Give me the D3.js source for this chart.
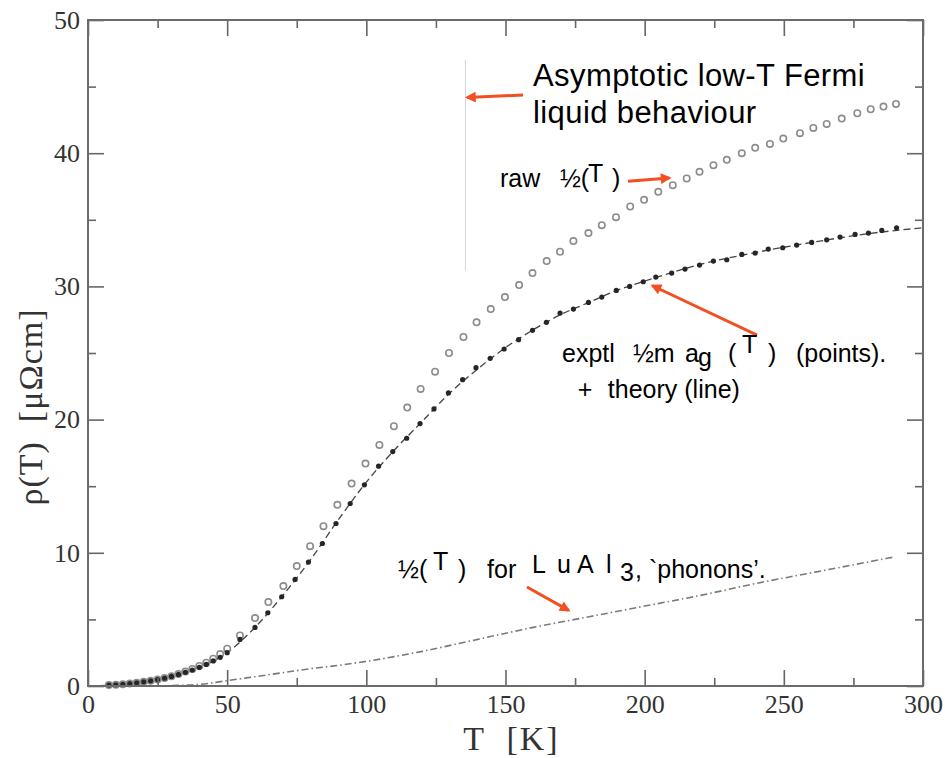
<meta charset="utf-8">
<title>rho(T) CeAl3 style plot</title>
<body style="margin:0;background:#fff">
<script src="https://d3js.org/d3.v7.min.js"></script>
<script>
// plot size
var W = 945, H = 758;
var mLeft = 88, mRight = 923, mTop = 20, mBottom = 686;

// raw rho(T) (open circles)
var rawT   = [7.5,10,12.5,15,17.5,20,22.5,25,27.5,30,32.5,35,37.5,40,42.5,45,47.5,50,
              54.6,60,64.8,70.2,75,79.8,84.6,89.6,94.7,99.7,104.7,109.9,114.7,119.5,124.7,129.7,
              134.9,139.6,144.7,149.8,154.9,159.7,164.8,169.6,174.4,179.8,184.6,189.7,194.8,199.8,
              204.9,210.1,215.1,219.7,224.7,229.5,234.9,239.7,245,249.8,255.8,260.6,265.4,270.8,
              276.4,281.2,285.8,290.3];
var rawRho = [0.07,0.09,0.13,0.18,0.24,0.31,0.39,0.48,0.6,0.73,0.9,1.08,1.28,1.5,1.75,2.05,2.4,2.8,
              3.8,5.1,6.3,7.5,9.0,10.5,12.0,13.6,15.2,16.7,18.1,19.5,20.9,22.3,23.6,25.0,
              26.2,27.3,28.3,29.2,30.1,31.0,31.9,32.6,33.4,34.0,34.6,35.2,36.0,36.5,
              37.1,37.6,38.1,38.6,39.1,39.5,40.0,40.4,40.7,41.1,41.5,41.9,42.2,42.6,
              43.0,43.3,43.5,43.7];

// exptl rho_mag(T) (filled points)
var magT   = [7.5,10,12.5,15,17.5,20,22.5,25,27.5,30,32.5,35,37.5,40,42.5,45,47.5,50,
              54.6,60,64.6,69.6,74.4,79.2,84.2,89.1,94.2,99.3,104.4,109.5,114.5,119.3,124.3,129.5,
              134.6,139.4,144.5,149.5,154.7,159.7,164.7,169.6,174.4,179.8,184.6,189.8,194.6,199.5,
              204,209.7,214.5,219.7,224.7,229.5,234.9,239.7,244.4,249.6,254.6,260,265.4,270.2,
              275.6,280.4,285.2,290.5];
var magRho = [0.07,0.09,0.13,0.18,0.24,0.31,0.39,0.48,0.59,0.72,0.87,1.03,1.2,1.4,1.62,1.88,2.15,2.5,
              3.5,4.4,5.5,6.7,8.0,9.3,10.7,12.2,13.7,15.1,16.5,17.6,18.6,19.7,20.8,22.0,
              23.0,23.9,24.6,25.3,26.0,26.7,27.3,28.0,28.3,28.8,29.2,29.7,30.0,30.35,
              30.7,31.0,31.3,31.6,31.9,32.0,32.4,32.5,32.8,32.9,33.1,33.3,33.5,33.7,
              33.9,34.0,34.2,34.4];

// theory (line)
var theoryT   = [0,10,20,30,40,50,60,70,80,90,100,110,120,130,140,150,160,170,180,190,200,220,240,260,280,300];
var theoryRho = [0,0.09,0.31,0.72,1.4,2.5,4.4,6.8,9.5,12.5,15.3,17.7,19.85,22.0,23.8,25.4,26.75,27.9,28.8,29.7,30.4,31.65,32.55,33.3,33.95,34.4];

// LuAl3 phonons
var phonT   = [25,30,40,50,60,70,80,90,100,120,140,160,180,200,220,240,260,280,290];
var phonRho = [0,0.03,0.12,0.4,0.7,1.0,1.3,1.55,1.85,2.6,3.5,4.4,5.2,6.0,6.8,7.7,8.5,9.3,9.7];

var xTicks = [0,50,100,150,200,250,300];
var xMinor = [25,75,125,175,225,275];
var yTicks = [0,10,20,30,40,50];
var yMinor = [5,15,25,35,45];

var svg = d3.select('body').append('svg')
            .attr('width', W)
            .attr('height', H)
              .style('display', 'block');

var x = d3.scaleLinear().domain([0, 300]).range([mLeft, mRight]);
var y = d3.scaleLinear().domain([0, 50]).range([mBottom, mTop]);

var orange = '#f25022';
svg.append('defs').append('marker')
    .attr('id', 'head')
    .attr('viewBox', '0 0 10 10')
    .attr('refX', 8).attr('refY', 5)
    .attr('markerWidth', 4.2).attr('markerHeight', 3.6)
    .attr('orient', 'auto')
  .append('path')
    .attr('d', 'M0,0 L10,5 L0,10 z')
    .style('fill', orange);

//curves=====================================================================
var line = d3.line().x(function(d){ return x(d[0]); }).y(function(d){ return y(d[1]); });

svg.append('path')
    .datum(d3.zip(phonT, phonRho))
    .attr('d', line.curve(d3.curveMonotoneX))
      .style('fill', 'none')
      .style('stroke', '#7a7a7a')
      .style('stroke-width', 1.6)
      .style('stroke-dasharray', '7,3,1.5,3');

svg.append('path')
    .datum(d3.zip(theoryT, theoryRho))
    .attr('d', line.curve(d3.curveMonotoneX))
      .style('fill', 'none')
      .style('stroke', '#444')
      .style('stroke-width', 1.3)
      .style('stroke-dasharray', '7,4');

svg.append('g').selectAll('circle')
    .data(d3.zip(rawT, rawRho))
    .enter().append('circle')
      .attr('cx', function(d){ return x(d[0]); })
      .attr('cy', function(d){ return y(d[1]); })
      .attr('r', 3.2)
        .style('fill', 'none')
        .style('stroke', '#8c8c8c')
        .style('stroke-width', 1.6);

svg.append('g').selectAll('circle')
    .data(d3.zip(magT, magRho))
    .enter().append('circle')
      .attr('cx', function(d){ return x(d[0]); })
      .attr('cy', function(d){ return y(d[1]); })
      .attr('r', 2.6)
        .style('fill', '#262626');

//annotations================================================================
svg.append('line')
    .attr('x1', x(135.6)).attr('x2', x(135.6))
    .attr('y1', y(47.0)).attr('y2', y(31.2))
      .style('stroke', '#d6d6d6')
      .style('stroke-width', 1);

function arrow(t0, r0, t1, r1){
  svg.append('line')
      .attr('x1', x(t0)).attr('y1', y(r0))
      .attr('x2', x(t1)).attr('y2', y(r1))
      .attr('marker-end', 'url(#head)')
        .style('stroke', orange)
        .style('stroke-width', 3);
}
arrow(156.3, 44.37, 136.2, 44.18);
arrow(194.0, 37.9, 208.9, 38.14);
arrow(240.4, 26.35, 202.8, 30.05);
arrow(157.7, 7.43, 172.7, 5.68);

// pieces: [text, dx, dy]
function label(t, r, size, pieces){
  var g = svg.append('g')
      .attr('transform', 'translate(' + x(t) + ',' + y(r) + ')')
        .style('font-family', '"Liberation Sans", Arial, sans-serif')
        .style('font-size', size + 'px')
        .style('fill', '#000');
  pieces.forEach(function(p){
    g.append('text').attr('x', p[1]).attr('y', p[2]).style('white-space', 'pre').text(p[0]);
  });
}

var big = svg.append('text')
    .attr('x', x(159.9)).attr('y', y(45.05))
      .style('font-family', '"Liberation Sans", Arial, sans-serif')
      .style('font-size', '31px')
      .style('letter-spacing', '0.4px');
big.append('tspan').text('Asymptotic low-T Fermi');
big.append('tspan').attr('x', x(159.9)).attr('dy', 37).text('liquid behaviour');

label(148.0, 37.46, 25, [['raw', 0, 0], ['½(', 60, 0], ['T', 88, -5], [')', 112, 0]]);
label(170.3, 24.32, 25, [['exptl', 0, 0], ['½m', 71, 0], ['a', 123, 0], ['g', 136, 4],
                         ['(', 166, 0], ['T', 180, -9], [')', 206, 0], ['(points).', 234, 0]]);
label(176.0, 21.62, 25, [['+', 0, 0], ['theory (line)', 30, 0]]);
label(111.4, 8.1, 25, [['½(', 0, 0], ['T', 35, -8], [')', 60, 0], ['for', 89, 0], ['L', 134, -5],
                       ['u', 159, -5], ['A', 179, -5], ['l', 208, -5], ['3', 222, 3],
                       [', `phonons’.', 237, 0]]);

//axes=======================================================================
function style(g){
  g.select('.domain').remove();
  g.selectAll('line').style('stroke', '#666').style('stroke-width', 1.6);
  g.selectAll('text')
    .style('font-family', '"Liberation Serif", "Times New Roman", serif')
    .style('font-size', '26px')
    .style('fill', '#333');
}
svg.append('g').attr('transform', 'translate(0,' + mBottom + ')')
    .call(d3.axisBottom(x).tickValues(xTicks).tickSize(-16).tickPadding(9)).call(style);
svg.append('g').attr('transform', 'translate(0,' + mBottom + ')')
    .call(d3.axisBottom(x).tickValues(xMinor).tickSize(-8).tickFormat('')).call(style);
svg.append('g').attr('transform', 'translate(0,' + mTop + ')')
    .call(d3.axisTop(x).tickValues(xTicks).tickSize(-16).tickFormat('')).call(style);
svg.append('g').attr('transform', 'translate(0,' + mTop + ')')
    .call(d3.axisTop(x).tickValues(xMinor).tickSize(-8).tickFormat('')).call(style);
svg.append('g').attr('transform', 'translate(' + mLeft + ',0)')
    .call(d3.axisLeft(y).tickValues(yTicks).tickSize(-16).tickPadding(8)).call(style);
svg.append('g').attr('transform', 'translate(' + mLeft + ',0)')
    .call(d3.axisLeft(y).tickValues(yMinor).tickSize(-8).tickFormat('')).call(style);
svg.append('g').attr('transform', 'translate(' + mRight + ',0)')
    .call(d3.axisRight(y).tickValues(yTicks).tickSize(-16).tickFormat('')).call(style);
svg.append('g').attr('transform', 'translate(' + mRight + ',0)')
    .call(d3.axisRight(y).tickValues(yMinor).tickSize(-8).tickFormat('')).call(style);

svg.append('rect')
    .attr('x', mLeft).attr('y', mTop)
    .attr('width', mRight - mLeft).attr('height', mBottom - mTop)
      .style('fill', 'none')
      .style('stroke', '#6b6b6b')
      .style('stroke-width', 2);

svg.append('text')
    .attr('x', (mLeft + mRight) / 2 + 6).attr('y', 750)
    .attr('text-anchor', 'middle')
      .style('font-family', '"Liberation Serif", "Times New Roman", serif')
      .style('font-size', '34px')
      .style('fill', '#333')
      .style('white-space', 'pre')
      .style('letter-spacing', '2px')
      .text('T  [K]');

svg.append('text')
    .attr('transform', 'translate(42,407) rotate(-90)')
    .attr('text-anchor', 'middle')
      .style('font-family', '"Liberation Serif", "Times New Roman", serif')
      .style('font-size', '34px')
      .style('fill', '#333')
      .style('white-space', 'pre')
      .style('letter-spacing', '1px')
      .text('ρ(T)  [μΩcm]');
</script>
